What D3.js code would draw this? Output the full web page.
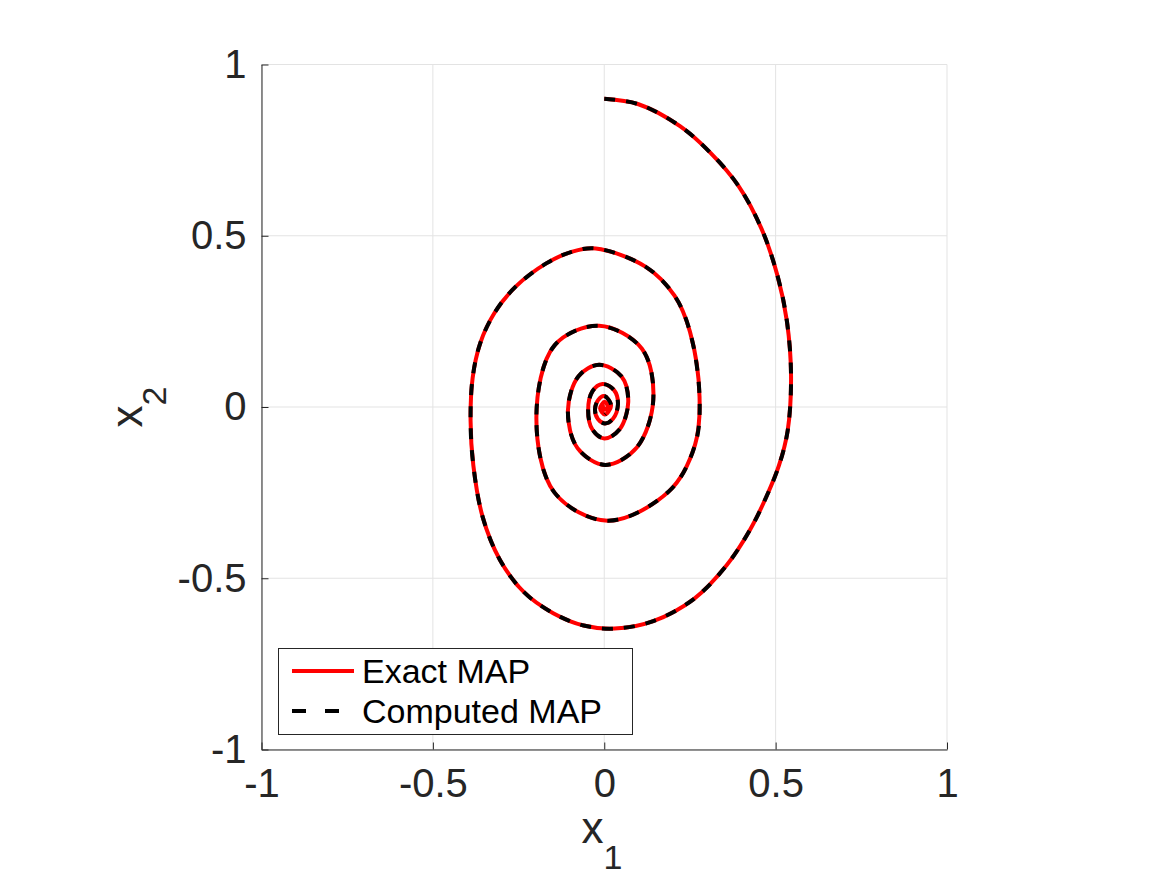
<!DOCTYPE html>
<html>
<head>
<meta charset="utf-8">
<script src="https://cdn.jsdelivr.net/npm/d3@7"></script>
<style>
  body { margin: 0; background: #fff; }
  svg text { font-family: "Liberation Sans", Arial, Helvetica, sans-serif; fill: #262626; }
</style>
</head>
<body>
<div id="chart"></div>
<script>
// MAP trajectory (x1, x2), clockwise from (0, 0.9)
var exactX1 = [
    0.000, 0.100, 0.221, 0.310, 0.392, 0.459, 0.505, 0.533, 0.545, 0.535,
    0.510, 0.473, 0.425, 0.357, 0.262, 0.143, 0.030, -0.060, -0.149, -0.235,
    -0.305, -0.355, -0.382, -0.390, -0.384, -0.362, -0.320, -0.260, -0.168, -0.095,
    -0.025, 0.120, 0.205, 0.250, 0.278, 0.265, 0.190, 0.010, -0.145, -0.198,
    -0.145, -0.015, 0.110, 0.143, 0.095, 0.003, -0.078, -0.106, -0.075,
    -0.015, 0.050, 0.070, 0.045, 0.000, -0.035, -0.047, -0.035,
    -0.005, 0.028, 0.040, 0.025, 0.002, -0.018, -0.027, -0.018,
    0.000, 0.020, 0.002, -0.012, 0.001, 0.010, 0.002, -0.004,
    0.002];
var exactX2 = [
    0.900, 0.884, 0.820, 0.742, 0.645, 0.520, 0.385, 0.250, 0.090, -0.070,
    -0.170, -0.262, -0.359, -0.462, -0.560, -0.625, -0.647, -0.638, -0.602, -0.540,
    -0.445, -0.320, -0.170, -0.040, 0.085, 0.186, 0.275, 0.350, 0.420, 0.453,
    0.463, 0.410, 0.325, 0.220, 0.030, -0.110, -0.245, -0.332, -0.250, -0.030,
    0.180, 0.237, 0.170, 0.020, -0.118, -0.169, -0.120, -0.010, 0.090,
    0.123, 0.090, 0.015, -0.065, -0.092, -0.065, -0.010, 0.045,
    0.067, 0.050, 0.008, -0.035, -0.048, -0.036, -0.008, 0.020,
    0.032, 0.005, -0.022, -0.004, 0.015, 0.002, -0.008, 0.000,
    0.002];
// computed MAP lies on the exact one; its dashed line stops at the inner ring
var computedX1 = exactX1.slice(0, 68);
var computedX2 = exactX2.slice(0, 68);

var tickValues = [-1, -0.5, 0, 0.5, 1];
var tickLabels = ["-1", "-0.5", "0", "0.5", "1"];
var legendLabels = ["Exact MAP", "Computed MAP"];

var width = 1167, height = 875;
var plot = {left: 261.5, right: 947, top: 64.5, bottom: 749.5};

var svg = d3.select("#chart").append("svg")
    .attr("width", width)
    .attr("height", height);

var xScale = d3.scaleLinear().domain([-1, 1]).range([plot.left, plot.right]);
var yScale = d3.scaleLinear().domain([-1, 1]).range([plot.bottom, plot.top]);

// grid
var grid = svg.append("g").attr("class", "grid");
grid.selectAll("line.gx").data(tickValues).enter().append("line")
    .attr("x1", function(d) { return xScale(d); })
    .attr("x2", function(d) { return xScale(d); })
    .attr("y1", plot.top).attr("y2", plot.bottom)
    .style("stroke", "#e3e3e3").style("stroke-width", 1);
grid.selectAll("line.gy").data(tickValues).enter().append("line")
    .attr("y1", function(d) { return yScale(d); })
    .attr("y2", function(d) { return yScale(d); })
    .attr("x1", plot.left).attr("x2", plot.right)
    .style("stroke", "#e3e3e3").style("stroke-width", 1);

// axes, ticks pointing inwards like matlab
var fmt = function(d) { return tickLabels[tickValues.indexOf(d)]; };
var xAxis = d3.axisBottom(xScale).tickValues(tickValues).tickFormat(fmt)
    .tickSizeInner(-7).tickSizeOuter(0).tickPadding(19);
var yAxis = d3.axisLeft(yScale).tickValues(tickValues).tickFormat(fmt)
    .tickSizeInner(-7).tickSizeOuter(0).tickPadding(15);

svg.append("g").attr("class", "x axis")
    .attr("transform", "translate(0," + plot.bottom + ")")
    .call(xAxis);
svg.append("g").attr("class", "y axis")
    .attr("transform", "translate(" + plot.left + ",0)")
    .call(yAxis);

svg.selectAll("g.axis path, g.axis line")
    .style("stroke", "#262626").style("stroke-width", 1);
svg.selectAll("g.axis text")
    .style("font-size", "40px")
    .style("font-family", "'Liberation Sans', Arial, sans-serif")
    .style("fill", "#262626");

// trajectories
var exactPts = exactX1.map(function(v, i) { return [v, exactX2[i]]; });
var computedPts = computedX1.map(function(v, i) { return [v, computedX2[i]]; });

var line = d3.line()
    .x(function(d) { return xScale(d[0]); })
    .y(function(d) { return yScale(d[1]); })
    .curve(d3.curveCatmullRom.alpha(0.5));

svg.append("path").datum(exactPts)
    .attr("d", line)
    .style("fill", "none")
    .style("stroke", "#ff0000")
    .style("stroke-width", 4)
    .style("stroke-linejoin", "round");

svg.append("path").datum(computedPts)
    .attr("d", line)
    .style("fill", "none")
    .style("stroke", "#000000")
    .style("stroke-width", 4)
    .style("stroke-dasharray", "11,11");

// axis labels with subscripts
var xl = svg.append("text")
    .attr("transform", "translate(602,843)")
    .style("text-anchor", "middle")
    .style("font-size", "44px");
xl.append("tspan").text("x");
xl.append("tspan").attr("dy", 26).style("font-size", "34px").text("1");

var yl = svg.append("text")
    .attr("transform", "translate(141.5,407) rotate(-90)")
    .style("text-anchor", "middle")
    .style("font-size", "44px");
yl.append("tspan").text("x");
yl.append("tspan").attr("dy", 24).style("font-size", "34px").text("2");

// legend
var legend = svg.append("g").attr("class", "legend");
legend.append("rect")
    .attr("x", 278.5).attr("y", 648.5)
    .attr("width", 354).attr("height", 86)
    .style("fill", "#fff")
    .style("stroke", "#262626")
    .style("stroke-width", 1);

var rows = legend.selectAll("g.row").data(legendLabels).enter().append("g")
    .attr("class", "row")
    .attr("transform", function(d, i) { return "translate(0," + (671 + i * 40) + ")"; });

rows.append("line")
    .attr("x1", 292).attr("x2", 354)
    .attr("y1", 0).attr("y2", 0)
    .style("stroke", function(d, i) { return i === 0 ? "#ff0000" : "#000"; })
    .style("stroke-width", 4)
    .style("stroke-dasharray", function(d, i) { return i === 0 ? null : "14,19"; });

rows.append("text")
    .attr("x", 362)
    .attr("y", 12)
    .style("font-size", "34px")
    .style("fill", "#000")
    .text(function(d) { return d; });
</script>
</body>
</html>
